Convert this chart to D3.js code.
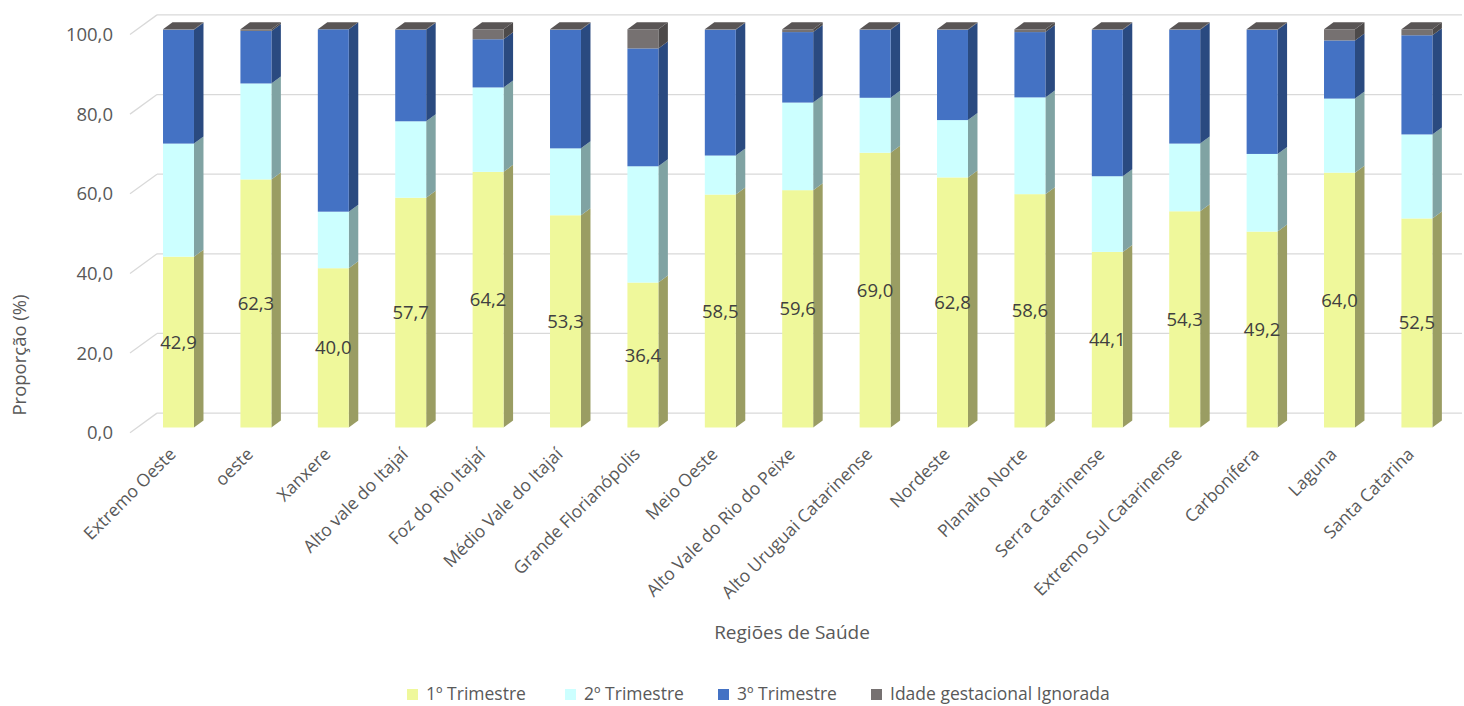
<!DOCTYPE html>
<html><head><meta charset="utf-8">
<script src="https://cdn.jsdelivr.net/npm/d3@7"></script>
<style>body{margin:0;background:#fff;} text{font-family:"Open Sans",sans-serif;fill:#595959;}</style>
</head><body>
<svg id="c" width="1464" height="706"></svg>
<script>
const categories = ["Extremo Oeste","oeste","Xanxere","Alto vale do Itajaí","Foz do Rio Itajaí","Médio Vale do Itajaí","Grande Florianópolis","Meio Oeste","Alto Vale do Rio do Peixe","Alto Uruguai Catarinense","Nordeste","Planalto Norte","Serra Catarinense","Extremo Sul Catarinense","Carbonífera","Laguna","Santa Catarina"];
const seriesNames = ["1º Trimestre","2º Trimestre","3º Trimestre","Idade gestacional Ignorada"];
const trim1 = [42.9,62.3,40.0,57.7,64.2,53.3,36.4,58.5,59.6,69.0,62.8,58.6,44.1,54.3,49.2,64.0,52.5];
const trim2 = [28.4,24.1,14.2,19.2,21.2,16.8,29.2,9.8,22.0,13.8,14.4,24.3,19.0,17.0,19.5,18.6,21.1];
const trim3 = [28.6,13.2,45.8,23.0,12.1,29.8,29.6,31.6,17.7,17.1,22.7,16.4,36.8,28.6,31.2,14.6,24.9];
const ignorada = [0.1,0.4,0.0,0.1,2.5,0.1,4.8,0.1,0.7,0.1,0.1,0.7,0.1,0.1,0.1,2.8,1.5];
const yTicks = [0,20,40,60,80,100];

const frontCol = ["#eff89b","#ccffff","#4472c4","#767171"];
const sideCol  = ["#9a9d63","#80a3a3","#2a4a80","#4d4a4a"];
const topCol   = ["#b8be74","#a3cccc","#365b9d","#595555"];

const svg = d3.select("#c");
const x = d3.scaleBand().domain(categories).range([139.8,1455.6]).paddingInner(0.6).paddingOuter(0.3);
const y = d3.scaleLinear().domain([0,100]).range([427.5,29.3]);
const DX = 9.5, DY = -7;          // bar depth
const WX = 20, WY = -14.4;        // back wall offset from bar front plane
const FX = -7, FY = 5.2;          // front axis plane offset
const wallLeft = 157, wallRight = 1462;

// gridlines
const g = svg.append("g");
yTicks.forEach(t => {
  const yb = y(t) + WY;
  g.append("line").attr("x1", wallLeft).attr("x2", wallRight).attr("y1", yb).attr("y2", yb)
    .attr("stroke","#d9d9d9").attr("stroke-width",1.3);
  g.append("line").attr("x1", 130).attr("y1", y(t)+FY).attr("x2", wallLeft).attr("y2", yb)
    .attr("stroke","#d9d9d9").attr("stroke-width",1.3);
  svg.append("text").attr("x",113).attr("y",y(t)+FY).attr("dy","0.35em")
    .attr("text-anchor","end").style("font-size","18.5px").text(d3.format(".1f")(t).replace(".",","));
});

// stacked data
const rows = categories.map((c,i)=>({cat:c, v:[trim1[i],trim2[i],trim3[i],ignorada[i]]}));
const bars = svg.append("g");
rows.forEach(r => {
  const x0 = x(r.cat), x1 = x0 + x.bandwidth();
  let acc = 0;
  const segs = r.v.map((v,k)=>{ const s={k, a:acc, b:acc+v}; acc+=v; return s; });
  segs.forEach(s => {
    const ya = y(s.a), yb = y(s.b);
    bars.append("polygon")
      .attr("points", [[x1,ya],[x1+DX,ya+DY],[x1+DX,yb+DY],[x1,yb]].join(" "))
      .attr("fill", sideCol[s.k]);
    bars.append("rect").attr("x",x0).attr("y",yb).attr("width",x1-x0).attr("height",Math.max(0,ya-yb))
      .attr("fill", frontCol[s.k]);
  });
  const top = segs[segs.length-1];
  const yt = y(top.b);
  bars.append("polygon")
    .attr("points", [[x0,yt],[x1,yt],[x1+DX,yt+DY],[x0+DX,yt+DY]].join(" "))
    .attr("fill", topCol[3]);
  bars.append("text").attr("x",(x0+x1)/2).attr("y",y(r.v[0]/2)).attr("dy","0.35em")
    .attr("text-anchor","middle").style("font-size","18.5px").style("fill","#404040")
    .text(d3.format(".1f")(r.v[0]).replace(".",","));
});

// x labels
categories.forEach(c => {
  const cx = x(c) + x.bandwidth()/2;
  svg.append("text").attr("transform",`translate(${cx-6},${451}) rotate(-45)`)
    .attr("text-anchor","end").attr("dy","0.35em").style("font-size","17.5px").text(c);
});

// axis titles
svg.append("text").attr("transform","translate(20,355) rotate(-90)").attr("text-anchor","middle")
  .attr("dy","0.35em").style("font-size","18.5px").text("Proporção (%)");
svg.append("text").attr("x",792).attr("y",632).attr("text-anchor","middle").attr("dy","0.35em")
  .style("font-size","19px").text("Regiões de Saúde");

// legend
const legX = [407, 565, 718, 871];
seriesNames.forEach((n,k)=>{
  svg.append("rect").attr("x",legX[k]).attr("y",689).attr("width",11).attr("height",11).attr("fill",frontCol[k]);
  svg.append("text").attr("x",legX[k]+19).attr("y",694).attr("dy","0.35em").style("font-size","17.5px").text(n);
});
</script>
</body></html>
